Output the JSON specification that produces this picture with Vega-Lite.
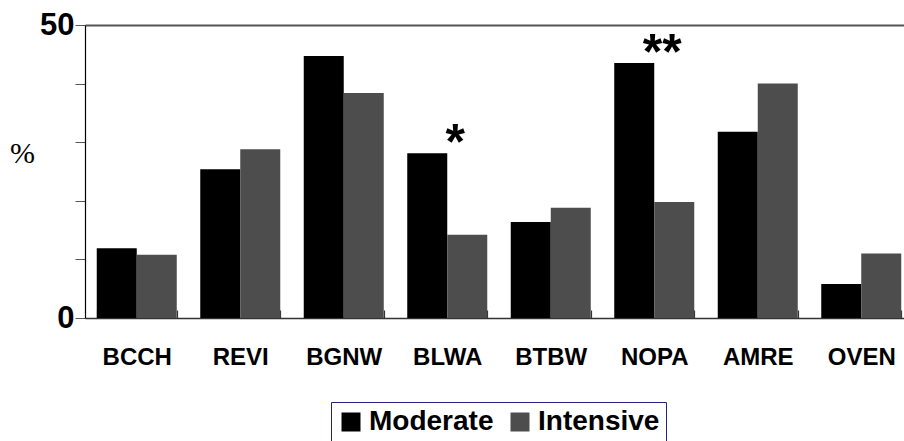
{
  "$schema": "https://vega.github.io/schema/vega-lite/v6.json",
  "autosize": {"type": "none"},
  "width": 819,
  "height": 293,
  "padding": {"left": 85, "top": 25, "right": 0, "bottom": 123},
  "background": "white",
  "config": {"view": {"stroke": null}},
  "data": {
    "values": [
      {"species": "BCCH", "treatment": "Moderate", "value": 11.9},
      {"species": "BCCH", "treatment": "Intensive", "value": 10.8},
      {"species": "REVI", "treatment": "Moderate", "value": 25.4},
      {"species": "REVI", "treatment": "Intensive", "value": 28.8},
      {"species": "BGNW", "treatment": "Moderate", "value": 44.7},
      {"species": "BGNW", "treatment": "Intensive", "value": 38.4},
      {"species": "BLWA", "treatment": "Moderate", "value": 28.1, "sig": "*"},
      {"species": "BLWA", "treatment": "Intensive", "value": 14.2},
      {"species": "BTBW", "treatment": "Moderate", "value": 16.4},
      {"species": "BTBW", "treatment": "Intensive", "value": 18.8},
      {"species": "NOPA", "treatment": "Moderate", "value": 43.5, "sig": "**"},
      {"species": "NOPA", "treatment": "Intensive", "value": 19.8},
      {"species": "AMRE", "treatment": "Moderate", "value": 31.8},
      {"species": "AMRE", "treatment": "Intensive", "value": 40.0},
      {"species": "OVEN", "treatment": "Moderate", "value": 5.8},
      {"species": "OVEN", "treatment": "Intensive", "value": 11.0}
    ]
  },
  "encoding": {
    "x": {
      "field": "species",
      "type": "nominal",
      "sort": null,
      "scale": {"range": [0, 828], "paddingInner": 0.227, "paddingOuter": 0.1135},
      "axis": {
        "title": null,
        "labelAngle": 0,
        "labelFont": "Liberation Sans",
        "labelFontWeight": "bold",
        "labelFontSize": 24,
        "labelColor": "black",
        "labelPadding": 27,
        "offset": -8,
        "domain": false,
        "tickBand": "extent",
        "tickSize": 8,
        "tickColor": "#333333",
        "tickWidth": 1.2
      }
    },
    "y": {
      "field": "value",
      "type": "quantitative",
      "scale": {"domain": [0, 50], "nice": false},
      "axis": {
        "title": "%",
        "titleAngle": 0,
        "titleFont": "Liberation Serif",
        "titleFontWeight": "normal",
        "titleFontSize": 30,
        "titleColor": "black",
        "titleX": -63,
        "titleY": 128,
        "titleAlign": "center",
        "titleBaseline": "middle",
        "values": [0, 10, 20, 30, 40, 50],
        "labelExpr": "datum.value == 0 || datum.value == 50 ? datum.label : ''",
        "labelFont": "Liberation Sans",
        "labelFontWeight": "bold",
        "labelFontSize": 31,
        "labelColor": "black",
        "labelPadding": 1,
        "tickSize": 10,
        "tickColor": "#555555",
        "domainColor": "black",
        "domainWidth": 1.2,
        "grid": true,
        "gridColor": {"condition": {"test": "datum.value == 0", "value": "#333333"}, "value": "#555555"},
        "gridWidth": {"condition": {"test": "datum.value == 0", "value": 1.5}, "value": 2},
        "gridOpacity": {"condition": {"test": "datum.value == 50 || datum.value == 0", "value": 1}, "value": 0}
      }
    }
  },
  "layer": [
    {
      "mark": {"type": "bar"},
      "encoding": {
        "xOffset": {"field": "treatment", "type": "nominal", "sort": ["Moderate", "Intensive"], "scale": {"paddingInner": 0, "paddingOuter": 0}},
        "color": {
          "field": "treatment",
          "type": "nominal",
          "sort": ["Moderate", "Intensive"],
          "scale": {"domain": ["Moderate", "Intensive"], "range": ["#000000", "#4d4d4d"]},
          "legend": {
            "title": null,
            "orient": "none",
            "legendX": 246,
            "legendY": 377,
            "direction": "horizontal",
            "strokeColor": "#23237e",
            "fillColor": "white",
            "padding": 6,
            "symbolType": "square",
            "symbolSize": 361,
            "symbolStrokeWidth": 0,
            "labelFont": "Liberation Sans",
            "labelFontWeight": "bold",
            "labelFontSize": 28,
            "labelColor": "black",
            "labelOffset": 4,
            "columnPadding": 12
          }
        }
      }
    },
    {
      "transform": [{"filter": "datum.sig"}],
      "mark": {"type": "text", "font": "Liberation Sans", "fontWeight": "bold", "fontSize": 50, "baseline": "middle", "align": "center", "dx": 8, "dy": -9},
      "encoding": {"text": {"field": "sig"}}
    }
  ]
}
